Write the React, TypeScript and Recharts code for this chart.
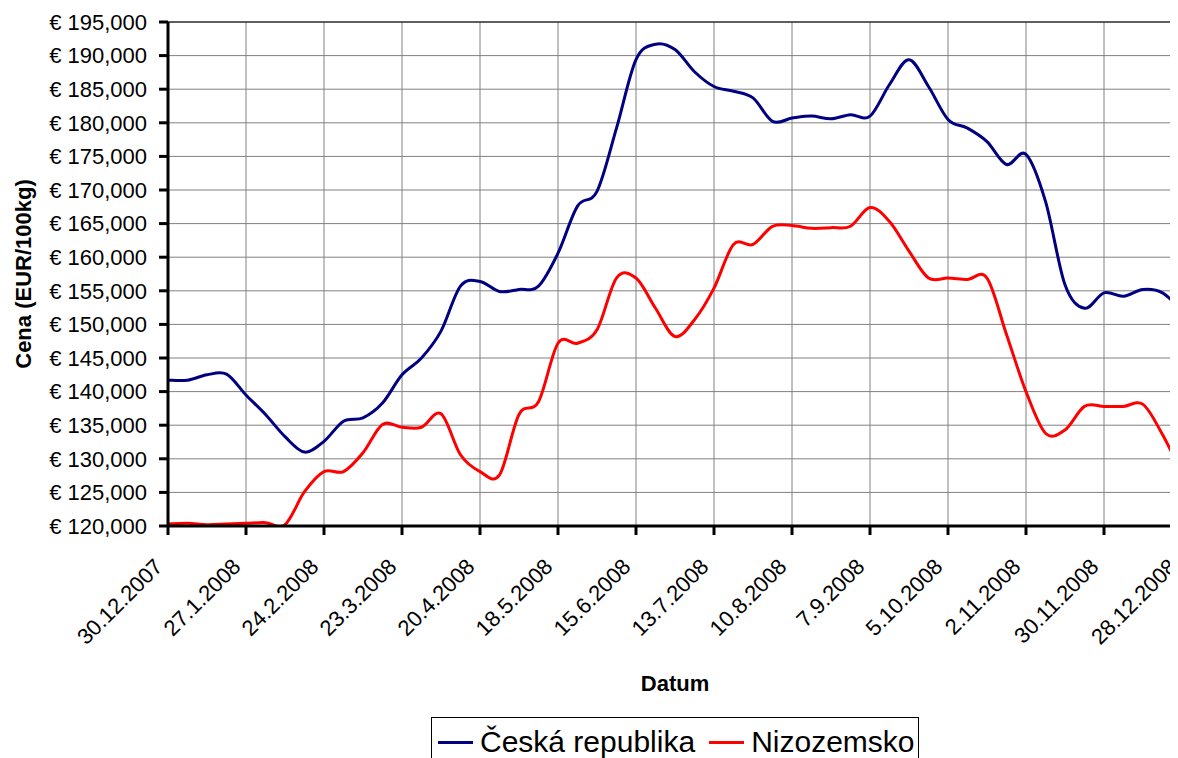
import React from 'react';
import { LineChart, Line, XAxis, YAxis, CartesianGrid, Legend, ReferenceLine } from 'recharts';

// Weekly prices (EUR/100kg), weeks starting 30.12.2007
const czValues = [
  141700, 141700, 142500, 142600, 139500, 136600, 133300, 131000, 132600, 135600,
  136100, 138300, 142500, 145000, 149000, 155700, 156400, 154900, 155200, 155700,
  160600, 167600, 169800, 179200, 189400, 191700, 190900, 187600, 185400, 184700,
  183700, 180200, 180700, 181000, 180600, 181200, 181000, 185700, 189400, 185400,
  180500, 179200, 177200, 173800, 175300, 168300, 155900, 152400, 154700, 154200,
  155200, 154700, 152000,
];
const nlValues = [
  120300, 120400, 120200, 120300, 120400, 120500, 120200, 125100, 128100, 128100,
  130900, 135100, 134700, 134700, 136700, 130600, 128100, 127600, 136600, 138500,
  147200, 147200, 149200, 156900, 156900, 152400, 148200, 150700, 155400, 161900,
  161900, 164600, 164700, 164300, 164400, 164600, 167400, 165300, 160900, 156900,
  156900, 156700, 156900, 148500, 140000, 133800, 134300, 137800, 137800, 137800,
  138100, 133600, 127800,
];
const xTickWeeks = [0, 4, 8, 12, 16, 20, 24, 28, 32, 36, 40, 44, 48, 52];
const xTickLabels = [
  '30.12.2007', '27.1.2008', '24.2.2008', '23.3.2008', '20.4.2008', '18.5.2008', '15.6.2008',
  '13.7.2008', '10.8.2008', '7.9.2008', '5.10.2008', '2.11.2008', '30.11.2008', '28.12.2008',
];
const yTicks = [
  120000, 125000, 130000, 135000, 140000, 145000, 150000, 155000, 160000, 165000,
  170000, 175000, 180000, 185000, 190000, 195000,
];
const seriesNames = ['Česká republika', 'Nizozemsko'];
const seriesColors = ['#000080', '#FF0000'];

const data = czValues.map((v, i) => ({ week: i, cz: v, nl: nlValues[i] }));

const FONT = '"Liberation Sans", Arial, sans-serif';
const PLOT_TOP = 14;
const PLOT_HEIGHT = 504;

// Excel-like smoothed line (Catmull-Rom through points)
function excelCurve(context: any) {
  let pts: number[][] = [];
  return {
    areaStart() {},
    areaEnd() {},
    lineStart() {
      pts = [];
    },
    lineEnd() {
      if (!pts.length) return;
      context.moveTo(pts[0][0], pts[0][1]);
      for (let i = 0; i < pts.length - 1; i++) {
        const p0 = pts[i - 1] || pts[i];
        const p1 = pts[i];
        const p2 = pts[i + 1];
        const p3 = pts[i + 2] || p2;
        context.bezierCurveTo(
          p1[0] + (p2[0] - p0[0]) / 6,
          p1[1] + (p2[1] - p0[1]) / 6,
          p2[0] - (p3[0] - p1[0]) / 6,
          p2[1] - (p3[1] - p1[1]) / 6,
          p2[0],
          p2[1]
        );
      }
    },
    point(x: number, y: number) {
      pts.push([x, y]);
    },
  };
}

const XTick = (props: any) => {
  const { x, payload } = props;
  const idx = xTickWeeks.indexOf(payload.value);
  const label = idx >= 0 ? xTickLabels[idx] : '';
  const ax = x - 4;
  const ay = PLOT_TOP + PLOT_HEIGHT + 42;
  return (
    <text
      x={ax}
      y={ay}
      transform={`rotate(-45 ${ax} ${ay})`}
      textAnchor="end"
      fontSize={22}
      fontFamily={FONT}
      fill="#000"
    >
      {label}
    </text>
  );
};

const formatEuro = (v: number) => '€ ' + v.toLocaleString('en-US');

const LegendBox = (props: any) => {
  const payload = [...(props.payload || [])].sort(
    (a: any, b: any) => seriesNames.indexOf(a.value) - seriesNames.indexOf(b.value)
  );
  return (
    <div
      style={{
        boxSizing: 'border-box',
        width: 488,
        height: 60,
        border: '1px solid #000',
        paddingTop: 9,
        paddingLeft: 6,
        display: 'flex',
        alignItems: 'flex-start',
        fontFamily: FONT,
        fontSize: 30,
        color: '#000',
        background: '#fff',
      }}
    >
      {payload.map((p: any, i: number) => (
        <div
          key={i}
          style={{ display: 'flex', alignItems: 'center', height: 30, lineHeight: '30px', marginRight: i === 0 ? 14 : 0 }}
        >
          <div style={{ width: 35, height: 3, background: p.color, marginRight: 7 }} />
          <span style={{ whiteSpace: 'nowrap' }}>{p.value}</span>
        </div>
      ))}
    </div>
  );
};

export default function App() {
  return (
    <div style={{ width: 1170, height: 750, overflow: 'hidden', position: 'relative', background: '#fff' }}>
      <LineChart width={1180} height={760} data={data} margin={{ top: PLOT_TOP, right: 6, left: 0, bottom: 0 }}>
        <CartesianGrid stroke="#808080" strokeWidth={1} />
        <XAxis
          dataKey="week"
          type="number"
          domain={[0, 52]}
          ticks={xTickWeeks}
          interval={0}
          height={760 - PLOT_TOP - PLOT_HEIGHT}
          tickSize={9}
          tickMargin={0}
          axisLine={{ stroke: '#000', strokeWidth: 3 }}
          tickLine={{ stroke: '#000', strokeWidth: 3 }}
          tick={<XTick />}
          label={{
            content: (p: any) => {
              const vb = p.viewBox || {};
              return (
                <text
                  x={vb.x + vb.width / 2}
                  y={vb.y + 165}
                  textAnchor="middle"
                  fontSize={22}
                  fontWeight="bold"
                  fontFamily={FONT}
                  fill="#000"
                >
                  Datum
                </text>
              );
            },
          }}
        />
        <YAxis
          type="number"
          domain={[120000, 195000]}
          ticks={yTicks}
          interval={0}
          allowDataOverflow
          width={160}
          tickSize={9}
          tickMargin={12}
          axisLine={{ stroke: '#000', strokeWidth: 3 }}
          tickLine={{ stroke: '#000', strokeWidth: 3 }}
          tick={{ fontSize: 22, fill: '#000', fontFamily: FONT }}
          tickFormatter={formatEuro}
          label={{
            content: (p: any) => {
              const vb = p.viewBox || {};
              const cx = 23;
              const cy = vb.y + vb.height / 2;
              return (
                <text
                  x={cx}
                  y={cy}
                  transform={`rotate(-90 ${cx} ${cy})`}
                  textAnchor="middle"
                  fontSize={22}
                  fontWeight="bold"
                  fontFamily={FONT}
                  fill="#000"
                >
                  Cena (EUR/100kg)
                </text>
              );
            },
          }}
        />
        <ReferenceLine y={195000} stroke="#000" strokeWidth={1} />
        <Legend
          layout="horizontal"
          verticalAlign="middle"
          align="center"
          wrapperStyle={{ left: 423, top: 709, width: 488, height: 60 }}
          content={<LegendBox />}
        />
        <Line
          dataKey="cz"
          name={seriesNames[0]}
          stroke={seriesColors[0]}
          strokeWidth={3}
          dot={false}
          activeDot={false}
          type={excelCurve as any}
          isAnimationActive={false}
        />
        <Line
          dataKey="nl"
          name={seriesNames[1]}
          stroke={seriesColors[1]}
          strokeWidth={3}
          dot={false}
          activeDot={false}
          type={excelCurve as any}
          isAnimationActive={false}
        />
      </LineChart>
    </div>
  );
}
